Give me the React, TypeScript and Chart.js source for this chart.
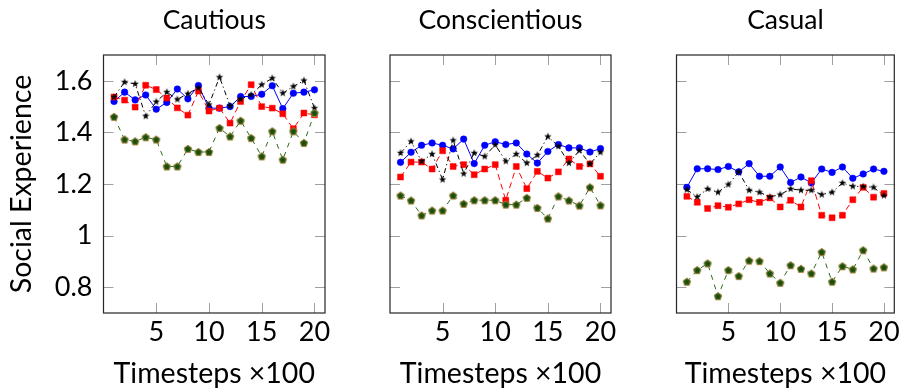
import React, { useEffect, useRef } from 'react';
import { Chart, registerables } from 'chart.js';

Chart.register(...registerables);

// ---------- data ----------
const timesteps = [1, 2, 3, 4, 5, 6, 7, 8, 9, 10, 11, 12, 13, 14, 15, 16, 17, 18, 19, 20];
const xTickValues = [5, 10, 15, 20];
const yTickValues = [0.8, 1, 1.2, 1.4, 1.6];
const panelTitles = ['Cautious', 'Conscientious', 'Casual'];
const xAxisTitle = 'Timesteps ×100';
const yAxisTitle = 'Social Experience';

const cautiousBlue = [1.52, 1.556, 1.526, 1.545, 1.49, 1.516, 1.568, 1.53, 1.582, 1.494, 1.494, 1.5, 1.539, 1.539, 1.548, 1.581, 1.492, 1.552, 1.556, 1.565];
const cautiousRed = [1.537, 1.525, 1.498, 1.583, 1.566, 1.533, 1.495, 1.467, 1.56, 1.483, 1.494, 1.436, 1.52, 1.585, 1.5, 1.494, 1.472, 1.414, 1.475, 1.468];
const cautiousBlack = [1.537, 1.595, 1.588, 1.463, 1.519, 1.556, 1.528, 1.55, 1.573, 1.508, 1.614, 1.503, 1.529, 1.546, 1.585, 1.61, 1.552, 1.578, 1.601, 1.494];
const cautiousGreen = [1.46, 1.372, 1.365, 1.381, 1.372, 1.268, 1.268, 1.336, 1.324, 1.324, 1.417, 1.384, 1.445, 1.378, 1.307, 1.404, 1.294, 1.404, 1.359, 1.475];

const conscBlue = [1.284, 1.323, 1.35, 1.359, 1.35, 1.336, 1.374, 1.279, 1.35, 1.364, 1.353, 1.359, 1.316, 1.281, 1.326, 1.353, 1.34, 1.34, 1.324, 1.337];
const conscRed = [1.227, 1.285, 1.285, 1.258, 1.329, 1.268, 1.275, 1.236, 1.258, 1.275, 1.137, 1.268, 1.182, 1.249, 1.223, 1.247, 1.297, 1.268, 1.278, 1.23];
const conscBlack = [1.32, 1.365, 1.288, 1.316, 1.217, 1.369, 1.24, 1.32, 1.307, 1.352, 1.288, 1.316, 1.281, 1.312, 1.384, 1.346, 1.281, 1.33, 1.278, 1.323];
const conscGreen = [1.155, 1.136, 1.078, 1.097, 1.097, 1.155, 1.123, 1.137, 1.137, 1.137, 1.12, 1.12, 1.146, 1.107, 1.066, 1.152, 1.136, 1.116, 1.187, 1.117];

const casualBlue = [1.187, 1.259, 1.259, 1.256, 1.268, 1.247, 1.279, 1.23, 1.23, 1.266, 1.206, 1.227, 1.204, 1.258, 1.245, 1.266, 1.222, 1.239, 1.258, 1.249];
const casualRed = [1.152, 1.129, 1.105, 1.116, 1.11, 1.123, 1.139, 1.129, 1.146, 1.111, 1.137, 1.111, 1.213, 1.079, 1.069, 1.079, 1.139, 1.187, 1.149, 1.163];
const casualBlack = [1.178, 1.15, 1.181, 1.168, 1.198, 1.247, 1.176, 1.168, 1.15, 1.159, 1.181, 1.176, 1.176, 1.159, 1.168, 1.204, 1.191, 1.19, 1.187, 1.155];
const casualGreen = [0.821, 0.866, 0.892, 0.765, 0.866, 0.843, 0.903, 0.901, 0.853, 0.817, 0.885, 0.871, 0.853, 0.936, 0.821, 0.881, 0.869, 0.943, 0.872, 0.877];

const panelSeries = [
  { blue: cautiousBlue, red: cautiousRed, black: cautiousBlack, green: cautiousGreen },
  { blue: conscBlue, red: conscRed, black: conscBlack, green: conscGreen },
  { blue: casualBlue, red: casualRed, black: casualBlack, green: casualGreen },
];

// ---------- layout / style ----------
const W = 903;
const H = 389;
const FONT = "Lato, 'Liberation Sans', sans-serif";
const panelLayout = [
  { left: 0, width: 340, axisW: 103.5, padR: 15, showY: true },
  { left: 360, width: 265, axisW: 30, padR: 14, showY: false },
  { left: 646, width: 257, axisW: 30.5, padR: 6, showY: false },
];
const TICK_LEN = 10;

function makeStar(): HTMLCanvasElement {
  const c = document.createElement('canvas');
  c.width = 12; c.height = 12;
  const g = c.getContext('2d')!;
  g.beginPath();
  for (let k = 0; k < 10; k++) {
    const r = k % 2 === 0 ? 3.9 : 1.6;
    const a = -Math.PI / 2 + (k * Math.PI) / 5;
    const px = 6 + r * Math.cos(a);
    const py = 6 + r * Math.sin(a);
    if (k === 0) g.moveTo(px, py); else g.lineTo(px, py);
  }
  g.closePath();
  g.fillStyle = '#000';
  g.fill();
  return c;
}

function makePentagon(): HTMLCanvasElement {
  const c = document.createElement('canvas');
  c.width = 12; c.height = 12;
  const g = c.getContext('2d')!;
  g.beginPath();
  for (let k = 0; k < 5; k++) {
    const a = -Math.PI / 2 + (k * 2 * Math.PI) / 5;
    const px = 6 + 4 * Math.cos(a);
    const py = 6.3 + 4 * Math.sin(a);
    if (k === 0) g.moveTo(px, py); else g.lineTo(px, py);
  }
  g.closePath();
  g.fillStyle = '#245c14';
  g.fill();
  g.strokeStyle = '#a8843c';
  g.lineWidth = 1;
  g.stroke();
  g.strokeStyle = '#133a08';
  g.lineWidth = 0.8;
  g.beginPath();
  g.moveTo(4.3, 4.6); g.lineTo(7.7, 8);
  g.moveTo(7.7, 4.6); g.lineTo(4.3, 8);
  g.stroke();
  return c;
}

const frameTicks = {
  id: 'frameTicks',
  beforeDatasetsDraw(chart: any) {
    const { ctx, chartArea, scales } = chart;
    const { left, right, top, bottom } = chartArea;
    ctx.save();
    ctx.strokeStyle = '#a0a0a0';
    ctx.lineWidth = 1;
    ctx.beginPath();
    for (const v of xTickValues) {
      const px = Math.round(scales.x.getPixelForValue(v)) + 0.5;
      ctx.moveTo(px, bottom); ctx.lineTo(px, bottom - TICK_LEN);
      ctx.moveTo(px, top); ctx.lineTo(px, top + TICK_LEN);
    }
    for (const v of yTickValues) {
      const py = Math.round(scales.y.getPixelForValue(v)) + 0.5;
      ctx.moveTo(left, py); ctx.lineTo(left + TICK_LEN, py);
      ctx.moveTo(right, py); ctx.lineTo(right - TICK_LEN, py);
    }
    ctx.stroke();
    ctx.strokeStyle = '#262626';
    ctx.lineWidth = 1.2;
    ctx.strokeRect(left, top, right - left, bottom - top);
    ctx.restore();
  },
};

function toPoints(values: number[]) {
  return timesteps.map((t, i) => ({ x: t, y: values[i] }));
}

export default function App() {
  const refs = [useRef<HTMLCanvasElement>(null), useRef<HTMLCanvasElement>(null), useRef<HTMLCanvasElement>(null)];

  useEffect(() => {
    document.body.style.margin = '0';
    const star = makeStar();
    const pent = makePentagon();
    const charts: Chart[] = [];
    panelLayout.forEach((lay, idx) => {
      const s = panelSeries[idx];
      const canvas = refs[idx].current!;
      const datasets: any[] = [
        {
          label: 'green', data: toPoints(s.green), borderColor: '#2e6a1c', backgroundColor: '#245c14',
          borderWidth: 1, borderDash: [5, 5], pointStyle: pent, pointRadius: 4,
        },
        {
          label: 'black', data: toPoints(s.black), borderColor: '#000', backgroundColor: '#000',
          borderWidth: 1, borderDash: [5, 3, 1.2, 3], pointStyle: star, pointRadius: 4,
        },
        {
          label: 'red', data: toPoints(s.red), borderColor: '#ff0000', backgroundColor: '#ff0000',
          borderWidth: 1, borderDash: [6, 4], pointStyle: 'rect', pointRadius: 4.2, pointBorderWidth: 0.5,
        },
        {
          label: 'blue', data: toPoints(s.blue), borderColor: '#0000ff', backgroundColor: '#0000ff',
          borderWidth: 1, pointStyle: 'circle', pointRadius: 3.3, pointBorderWidth: 0.5,
        },
      ];
      const chart = new Chart(canvas, {
        type: 'line',
        data: { datasets },
        plugins: [frameTicks],
        options: {
          animation: false,
          responsive: false,
          devicePixelRatio: 1,
          layout: { padding: { left: 0, right: lay.padR, top: 0, bottom: 0 } },
          elements: { line: { tension: 0 } },
          plugins: {
            legend: { display: false },
            tooltip: { enabled: false },
            title: {
              display: true,
              fullSize: false,
              text: panelTitles[idx],
              color: '#000',
              font: { family: FONT, size: 26.5, weight: 'normal', lineHeight: 1.2 },
              padding: { top: 4.1, bottom: 19.1 },
            },
          },
          scales: {
            x: {
              type: 'linear',
              min: 0,
              max: 21,
              grid: { display: false, drawTicks: false },
              border: { display: false },
              afterBuildTicks: (sc: any) => { sc.ticks = xTickValues.map((v) => ({ value: v })); },
              afterFit: (sc: any) => { sc.height = 76; },
              ticks: {
                color: '#000', font: { family: FONT, size: 27 }, padding: 3,
                maxRotation: 0, autoSkip: false,
                callback: (v: any) => String(v),
              },
              title: {
                display: true, text: xAxisTitle, color: '#000',
                font: { family: FONT, size: 28.5, lineHeight: 1.0 }, padding: { top: 0, bottom: 0.5 },
              },
            },
            y: {
              type: 'linear',
              min: 0.7,
              max: 1.7,
              grid: { display: false, drawTicks: false },
              border: { display: false },
              afterBuildTicks: (sc: any) => { sc.ticks = yTickValues.map((v) => ({ value: v })); },
              afterFit: (sc: any) => { sc.width = lay.axisW; },
              ticks: {
                display: lay.showY, color: '#000', font: { family: FONT, size: 27 }, padding: 11,
                callback: (v: any) => String(v),
              },
              title: {
                display: lay.showY, text: yAxisTitle, color: '#000',
                font: { family: FONT, size: 28.5, lineHeight: 1.0 }, padding: { top: 7.5, bottom: 0 },
              },
            },
          },
        } as any,
      });
      charts.push(chart);
    });
    return () => charts.forEach((c) => c.destroy());
  }, []);

  return (
    <div style={{ position: 'absolute', left: 0, top: 0, width: W, height: H, overflow: 'hidden', background: '#fff' }}>
      {panelLayout.map((lay, i) => (
        <canvas
          key={i}
          ref={refs[i]}
          width={lay.width}
          height={H}
          style={{ position: 'absolute', left: lay.left, top: 0, width: lay.width, height: H }}
        />
      ))}
    </div>
  );
}
